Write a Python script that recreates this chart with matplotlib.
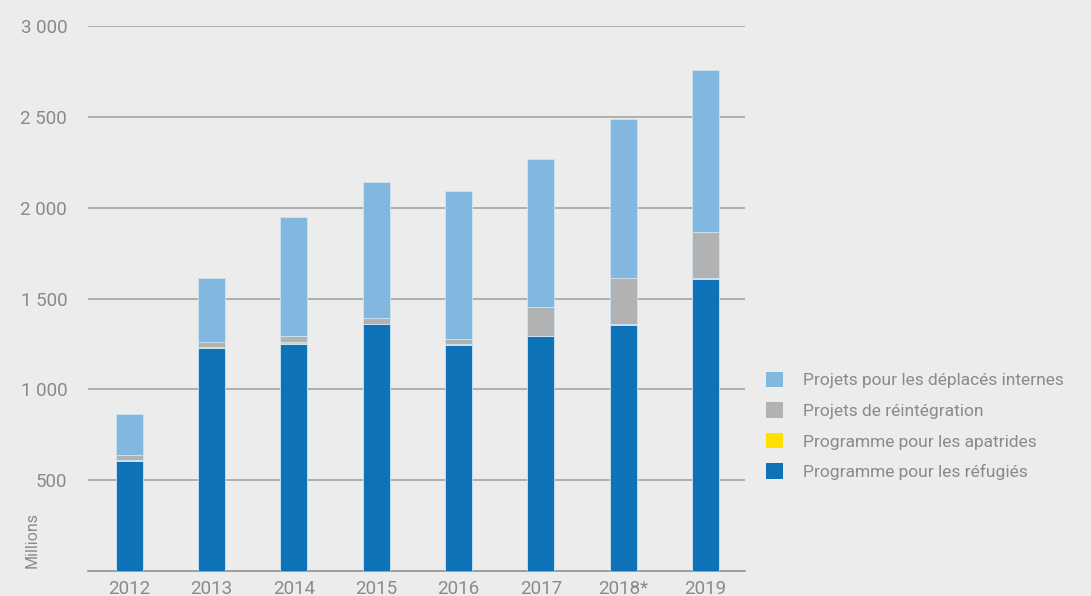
import numpy as np
import matplotlib.pyplot as plt
from matplotlib.patches import Patch

# Budgets par pilier (millions USD)
annees = ['2012', '2013', '2014', '2015', '2016', '2017', '2018*', '2019']
refugies = [608, 1230, 1247, 1357, 1245, 1293, 1355, 1610]
apatrides = [3, 3, 15, 3, 3, 2, 2, 2]
reintegration = [28, 30, 31, 31, 30, 158, 256, 256]
deplaces = [226, 351, 654, 749, 812, 813, 877, 892]

series = [
    (refugies, '#0e72b9', 'Programme pour les réfugiés'),
    (apatrides, '#ffe000', 'Programme pour les apatrides'),
    (reintegration, '#b2b2b2', 'Projets de réintégration'),
    (deplaces, '#82b8df', 'Projets pour les déplacés internes'),
]

plt.rcParams['font.family'] = ['Roboto', 'DejaVu Sans']
bg = '#ececec'
txt = '#8a8a8a'

fig = plt.figure(figsize=(10.91, 5.96), dpi=100, facecolor=bg)
ax = fig.add_axes([88/1091, 25/596, (745-88)/1091, (571-26)/596])
ax.set_facecolor(bg)

x = np.arange(len(annees))
bas = np.zeros(len(annees))
for vals, col, lab in series:
    ax.bar(x, vals, width=0.33, bottom=bas, color=col, edgecolor='#cfe3f2',
           linewidth=0.6, zorder=3)
    bas += np.array(vals)

ax.set_xlim(-0.5, 7.48)
ax.set_ylim(0, 3000)
ax.set_yticks([500, 1000, 1500, 2000, 2500, 3000])
ax.set_yticklabels(['500', '1 000', '1 500', '2 000', '2 500', '3 000'])
ax.set_xticks(x)
ax.set_xticklabels(annees)
ax.tick_params(axis='both', length=0, labelsize=13.5, colors=txt)
ax.tick_params(axis='y', pad=15)
ax.tick_params(axis='x', pad=6.5)
ax.yaxis.grid(True, color='#a3a3a3', linewidth=1.2, zorder=0)
for s in ['top', 'right', 'left']:
    ax.spines[s].set_visible(False)
ax.spines['bottom'].set_color('#909090')
ax.spines['bottom'].set_linewidth(1.2)

fig.text(32/1091, 1 - 540/596, 'Millions', rotation=90, ha='center', va='center',
         color=txt, fontsize=11.5)

handles = [Patch(facecolor=c, label=l) for _, c, l in series[::-1]]
fig.legend(handles=handles, loc='upper left', bbox_to_anchor=(750/1091, 1 - 356/596),
           frameon=False, fontsize=12.5, labelcolor=txt, handlelength=1.0,
           handleheight=1.0, handletextpad=1.15, labelspacing=0.8)

fig.savefig('out.png', dpi=100, facecolor=bg)
